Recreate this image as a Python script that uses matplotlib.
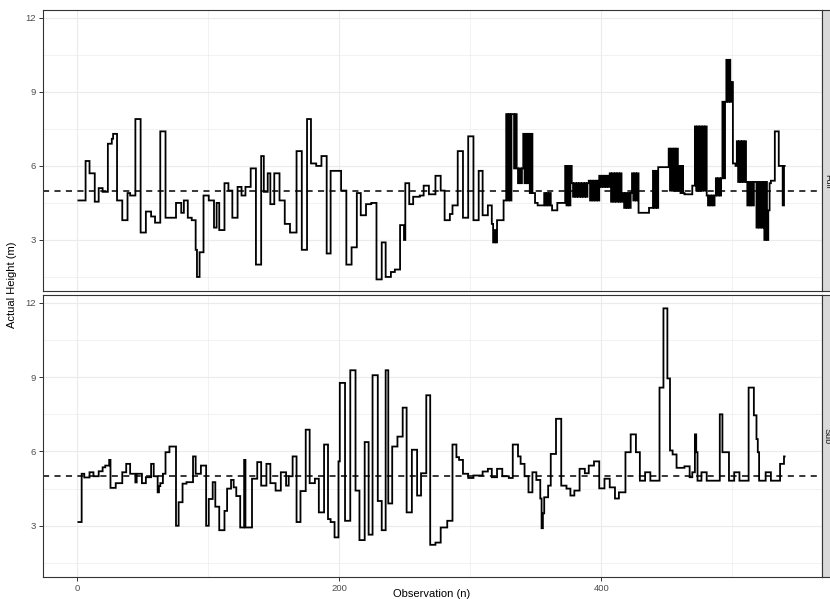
import numpy as np
import matplotlib
matplotlib.use("Agg")
import matplotlib.pyplot as plt
from matplotlib.ticker import MultipleLocator

plt.rcParams['font.family'] = ['Liberation Sans', 'DejaVu Sans']

# height per observation, stored as runs: first observation of each run and its value.
# runs listed in *_flicker swap between the value and the flicker value every observation.
full_start = [1, 7, 10, 14, 17, 20, 24, 27, 28, 31,
              35, 39, 41, 45, 49, 53, 57, 60, 64, 68,
              76, 80, 82, 85, 88, 91, 92, 94, 97, 101,
              105, 107, 109, 113, 116, 119, 123, 126, 129, 133,
              137, 141, 143, 146, 148, 151, 155, 159, 163, 168,
              172, 176, 179, 183, 187, 191, 194, 202, 206, 210,
              214, 217, 221, 225, 229, 233, 236, 240, 243, 247,
              250, 251, 254, 257, 262, 265, 269, 274, 278, 281,
              285, 287, 291, 295, 299, 303, 307, 310, 314, 317,
              318, 321, 326, 328, 333, 336, 341, 345, 349, 350,
              352, 357, 363, 367, 373, 378, 391, 399, 407, 417,
              424, 429, 437, 440, 444, 452, 460, 464, 470, 472,
              481, 488, 493, 496, 500, 501, 503, 504, 511, 518,
              524, 528, 529, 530, 533, 536, 539, 540]
full_value = [4.6, 6.2, 5.7, 4.55, 5.1, 4.95, 6.9, 7.1, 7.3, 4.6,
              3.8, 4.9, 4.8, 7.9, 3.3, 4.15, 3.95, 3.7, 7.4, 3.9,
              4.5, 4.1, 4.6, 3.9, 3.8, 2.6, 1.5, 2.5, 4.8, 4.6,
              3.5, 4.5, 3.4, 5.3, 5.0, 3.9, 5.15, 4.8, 5.15, 5.9,
              2.0, 6.4, 4.95, 5.7, 4.45, 5.7, 4.6, 3.65, 3.3, 6.6,
              2.6, 7.9, 6.1, 6.0, 6.4, 2.45, 5.8, 5.0, 2.0, 2.7,
              4.9, 4.0, 4.45, 4.5, 1.4, 2.9, 1.5, 1.7, 1.8, 3.6,
              3.0, 5.3, 4.45, 4.75, 4.8, 5.2, 4.85, 5.6, 5.0, 3.8,
              4.05, 4.4, 6.6, 3.9, 7.2, 3.8, 5.8, 4.0, 4.4, 3.65,
              2.9, 3.8, 4.6, 8.1, 8.1, 5.9, 7.3, 7.3, 4.9, 4.5,
              4.4, 4.9, 4.2, 4.5, 6.0, 5.3, 5.4, 5.6, 5.7, 4.9,
              5.7, 4.1, 4.3, 5.8, 5.95, 6.7, 6.0, 4.85, 5.2, 7.6,
              4.8, 5.5, 8.6, 10.3, 9.4, 6.1, 6.0, 7.0, 5.35, 5.35,
              5.35, 4.2, 5.3, 5.4, 7.4, 6.0, 4.4, 6.0]
full_flicker = {318: 3.4, 328: 4.6, 333: 5.9, 336: 5.3, 341: 5.3, 345: 4.9,
                357: 4.4, 373: 4.4, 378: 4.75, 391: 4.6, 399: 5.15, 407: 4.55,
                417: 4.3, 424: 4.6, 440: 4.3, 452: 5.0, 460: 4.9, 472: 5.0,
                481: 4.4, 488: 4.8, 493: 5.5, 496: 8.6, 504: 5.35, 511: 4.4,
                518: 3.5, 524: 3.0}

sub_start = [1, 4, 6, 10, 13, 17, 20, 22, 25, 26,
             30, 35, 38, 41, 45, 46, 50, 53, 57, 59,
             62, 64, 66, 68, 71, 76, 78, 81, 84, 89,
             91, 95, 99, 101, 104, 106, 109, 113, 115, 118,
             120, 122, 125, 128, 130, 134, 138, 141, 145, 148,
             152, 156, 160, 162, 165, 168, 171, 175, 178, 182,
             185, 189, 192, 194, 197, 200, 201, 205, 209, 213,
             216, 220, 223, 226, 230, 233, 236, 238, 241, 245,
             249, 252, 256, 260, 263, 267, 270, 274, 278, 283,
             287, 290, 292, 295, 299, 303, 310, 314, 317, 321,
             325, 330, 333, 337, 339, 342, 345, 348, 351, 354,
             355, 357, 360, 362, 366, 370, 374, 377, 380, 384,
             388, 391, 395, 399, 403, 407, 411, 414, 419, 423,
             427, 430, 434, 438, 445, 448, 451, 453, 455, 458,
             464, 468, 470, 472, 473, 474, 477, 481, 491, 493,
             498, 502, 506, 513, 517, 519, 520, 521, 526, 530,
             537, 540]
sub_value = [3.15, 5.1, 4.95, 5.16, 5.0, 5.2, 5.36, 5.43, 5.66, 4.53,
             4.72, 5.16, 5.5, 5.1, 4.75, 5.1, 4.72, 4.96, 5.5, 5.0,
             4.35, 4.72, 5.1, 5.97, 6.2, 3.0, 3.95, 4.7, 4.76, 5.8,
             5.1, 5.43, 3.0, 4.08, 4.76, 3.77, 2.82, 3.6, 4.5, 4.85,
             4.55, 4.2, 2.93, 5.66, 2.93, 4.9, 5.57, 4.62, 5.5, 4.72,
             4.42, 5.16, 4.62, 5.0, 5.8, 3.15, 4.4, 6.88, 4.72, 4.9,
             3.54, 6.28, 3.27, 3.15, 2.53, 5.6, 8.77, 3.2, 9.28, 4.42,
             2.42, 6.38, 2.64, 9.08, 4.0, 2.82, 9.28, 3.9, 6.2, 6.6,
             7.77, 3.54, 6.07, 4.22, 5.12, 8.27, 2.23, 2.32, 2.93, 3.2,
             6.28, 5.77, 5.66, 5.1, 4.93, 5.03, 5.19, 5.3, 4.96, 5.3,
             5.0, 4.93, 6.28, 5.8, 5.5, 5.0, 4.35, 5.16, 4.85, 4.1,
             2.9, 4.15, 4.62, 5.9, 7.32, 4.62, 4.5, 4.22, 4.42, 5.3,
             5.12, 5.43, 5.6, 4.51, 4.9, 4.55, 4.1, 4.35, 5.97, 6.69,
             5.97, 4.82, 5.16, 4.82, 8.58, 11.78, 8.95, 6.04, 5.88, 5.34,
             5.4, 4.96, 5.16, 6.69, 5.97, 4.82, 5.16, 4.82, 7.5, 5.97,
             4.82, 5.16, 4.82, 8.58, 7.46, 6.5, 5.97, 4.82, 5.16, 4.82,
             5.5, 5.8]
sub_flicker = {62: 4.6, 128: 2.93, 355: 3.5}

n_obs = 540
threshold = 5.0
facet_labels = ["Full", "Sub"]


def expand(starts, values, flicker, end):
    bounds = list(starts) + [end + 1]
    heights = []
    for k, s in enumerate(starts):
        alt = flicker.get(s, values[k])
        for j in range(bounds[k + 1] - s):
            heights.append(values[k] if j % 2 == 0 else alt)
    return np.arange(starts[0], end + 1), np.array(heights)


series = [expand(full_start, full_value, full_flicker, n_obs),
          expand(sub_start, sub_value, sub_flicker, n_obs)]

W, H = 830, 599
fig = plt.figure(figsize=(W / 100, H / 100), dpi=100)

left, right = 43, 822
panels = [(10, 291), (295, 577)]
label_y = [181, 436]
grid_c = "#EBEBEB"
border_c = "#333333"

for i, (top, bottom) in enumerate(panels):
    ax = fig.add_axes([left / W, 1 - bottom / H, (right - left) / W, (bottom - top) / H])
    x, y = series[i]
    ax.plot(x, y, color="black", lw=1.3, drawstyle="steps-mid",
            solid_joinstyle="miter", zorder=3)
    ax.axhline(threshold, color="black", lw=1.1, ls=(0, (4, 3.5)), zorder=2)

    ax.set_xlim(-26, 568.5)
    ax.set_ylim(0.93, 12.32)
    ax.xaxis.set_major_locator(MultipleLocator(200))
    ax.xaxis.set_minor_locator(MultipleLocator(100))
    ax.yaxis.set_major_locator(MultipleLocator(3))
    ax.yaxis.set_minor_locator(MultipleLocator(1.5))
    ax.grid(which="major", color=grid_c, lw=0.8, zorder=0)
    ax.grid(which="minor", color=grid_c, lw=0.45, zorder=0)
    ax.set_axisbelow(True)
    for sp in ax.spines.values():
        sp.set_color(border_c)
        sp.set_linewidth(0.8)
    ax.tick_params(which="major", length=3, width=0.7, color=border_c,
                   labelsize=6.8, labelcolor="#4D4D4D", pad=2)
    ax.tick_params(which="minor", length=0)
    if i == 0:
        ax.tick_params(axis="x", labelbottom=False, length=0)

    # facet strip on the right side, running past the figure edge
    sax = fig.add_axes([right / W, 1 - bottom / H, 20 / W, (bottom - top) / H])
    sax.set_facecolor("#D9D9D9")
    sax.set_xticks([])
    sax.set_yticks([])
    for sp in sax.spines.values():
        sp.set_color(border_c)
        sp.set_linewidth(0.8)
    fig.text(827.5 / W, 1 - label_y[i] / H, facet_labels[i], rotation=-90,
             ha="center", va="center", fontsize=6.5, color="#1A1A1A")

fig.text(432 / W, 1 - 594 / H, "Observation (n)", ha="center", va="center",
         fontsize=8, color="black")
fig.text(12 / W, 1 - 285 / H, "Actual Height (m)", ha="center", va="center",
         rotation=90, fontsize=8, color="black")

fig.savefig("out.png", dpi=100, facecolor="white")
